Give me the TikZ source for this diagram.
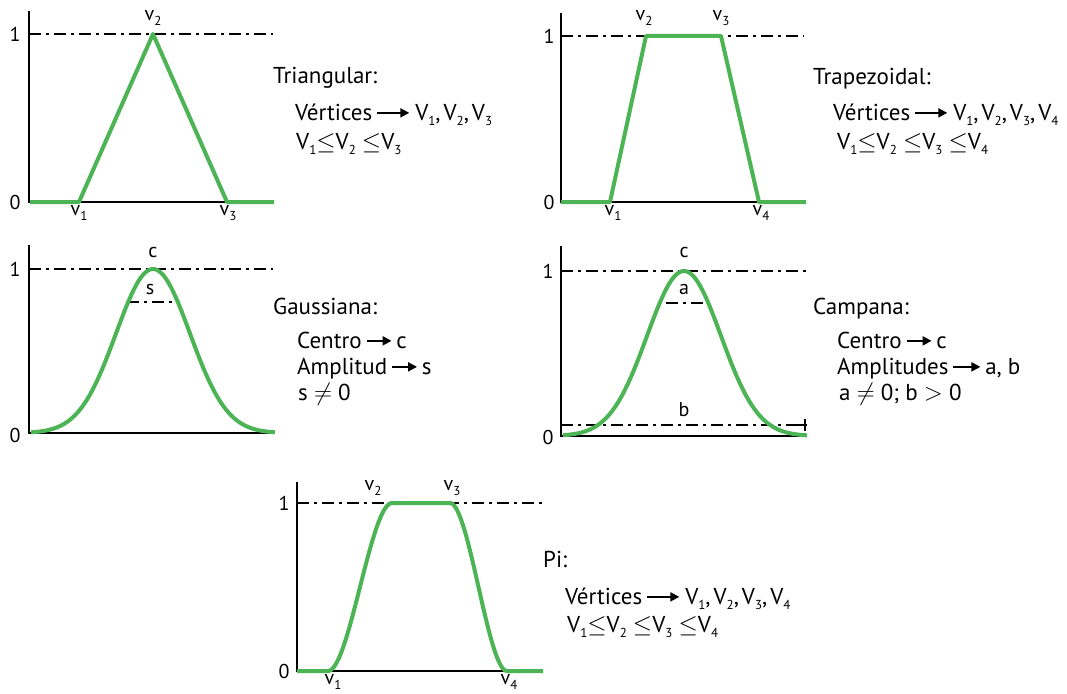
\documentclass[tikz,border=0pt]{standalone}
\usepackage{fontspec}
\setmainfont{PT Sans}
\usetikzlibrary{arrows.meta}
\definecolor{mfgreen}{RGB}{76,180,84}
\tikzset{
  axisline/.style={line width=1.8pt, black},
  mf/.style={line width=4pt, mfgreen, line join=round},
  guide/.style={line width=1.3pt, dash pattern=on 12pt off 5pt on 3pt off 5pt},
  lbl/.style={font=\fontsize{20}{20}\selectfont, inner sep=0pt},
  txt/.style={font=\fontsize{23}{23}\selectfont, anchor=base west, inner sep=0pt},
}
\newcommand\sbx[1]{\raisebox{-0.45ex}{\fontsize{13}{13}\selectfont #1}}
\newcommand\arr[1]{\tikz[baseline=-0.62ex]\draw[line width=2pt,-{Triangle[length=9pt,width=9pt]}](0pt,0pt)--(#1,0pt);}
\newcommand\cs{,\hspace{3pt}}
\newcommand\verts[1]{Vértices\hspace{4pt}\arr{32pt}\hspace{5pt}#1}
\begin{document}
\begin{tikzpicture}[x=1pt,y=-1pt]
\useasboundingbox (0,0) rectangle (1067,693);
\fill[white] (0,0) rectangle (1067,693);

% ---------- Triangular ----------
\coordinate (t0) at (30,202); \coordinate (tv1) at (79,202);
\coordinate (tv2) at (153,34); \coordinate (tv3) at (227,202);
\coordinate (tend) at (274,202);
\draw[axisline] (29,11) -- (29,202) -- (274,202);
\draw[guide] (29,34) -- (273,34);
\draw[mf] (t0) -- (tv1) -- (tv2) -- (tv3) -- (tend);
\node[lbl] (t1) at (15,34) {1};
\node[lbl] (t00) at (15,202) {0};
\node[lbl] (tl2) at (153,18) {v\sbx{2}};
\node[lbl] (tl1) at (79,213) {v\sbx{1}};
\node[lbl] (tl3) at (228,213) {v\sbx{3}};
\node[txt] (tt1) at (273,83) {Triangular:};
\node[txt] (tt2) at (295,120) {\verts{V\sbx{1}\cs V\sbx{2}\cs V\sbx{3}}};
\node[txt] (tt3) at (296,149) {V\sbx{1}$\le$V\sbx{2} $\le$V\sbx{3}};

% ---------- Trapezoidal ----------
\coordinate (z0) at (561,202); \coordinate (zv1) at (610,202);
\coordinate (zv2) at (646,36); \coordinate (zv3) at (721,36);
\coordinate (zv4) at (759,202); \coordinate (zend) at (806,202);
\draw[axisline] (561,13) -- (561,202) -- (806,202);
\draw[guide] (561,36) -- (804,36);
\draw[mf] (z0) -- (zv1) -- (zv2) -- (zv3) -- (zv4) -- (zend);
\node[lbl] (z1) at (549,36) {1};
\node[lbl] (z00) at (549,202) {0};
\node[lbl] (zl2) at (644,18) {v\sbx{2}};
\node[lbl] (zl3) at (721,18) {v\sbx{3}};
\node[lbl] (zl1) at (613,213) {v\sbx{1}};
\node[lbl] (zl4) at (761,213) {v\sbx{4}};
\node[txt] (zt1) at (813,84) {Trapezoidal:};
\node[txt] (zt2) at (833,120) {\verts{V\sbx{1}\cs V\sbx{2}\cs V\sbx{3}\cs V\sbx{4}}};
\node[txt] (zt3) at (837,149) {V\sbx{1}$\le$V\sbx{2} $\le$V\sbx{3} $\le$V\sbx{4}};

% ---------- Gaussiana ----------
\draw[axisline] (29,245) -- (29,433) -- (275,433);
\draw[guide] (29,269) -- (273,269);
\draw[guide] (127,302) -- (180,302);
\draw[mf] plot[domain=31:275, samples=90, smooth] (\x, {433-164*exp(-0.5*((\x-153)/37)^2)});
\node[lbl] (g1) at (15,269) {1};
\node[lbl] (g00) at (15,435) {0};
\node[lbl] (gc) at (153,252) {c};
\node[lbl] (gs) at (150,289) {s};
\node[txt] (gt1) at (273,314) {Gaussiana:};
\node[txt] (gt2) at (297,348) {Centro\,\arr{25pt}\,c};
\node[txt] (gt3) at (297,374) {Amplitud\,\arr{25pt}\,s};
\node[txt] (gt4) at (298,400) {s $\neq$ 0};

% ---------- Campana ----------
\draw[axisline] (561,246) -- (561,436) -- (807,436);
\draw[guide] (561,271) -- (806,271);
\draw[guide] (666,303) -- (705,303);
\draw[guide] (561,425) -- (800,425);
\draw[line width=1.3pt] (797,425) -- (807,425) (805,419) -- (805,431);
\draw[mf] plot[domain=563:807, samples=100, smooth]
  (\x, {436-165*exp(-0.5*((\x-684)/37)^2)});
\node[lbl] (b1) at (548,271) {1};
\node[lbl] (b00) at (548,437) {0};
\node[lbl] (bc) at (684,252) {c};
\node[lbl] (ba) at (684,289) {a};
\node[lbl] (bb) at (684,410) {b};
\node[txt] (bt1) at (813,314) {Campana:};
\node[txt] (bt2) at (837,348) {Centro\,\arr{25pt}\,c};
\node[txt] (bt3) at (837,374) {Amplitudes\,\arr{27pt}\,a, b};
\node[txt] (bt4) at (839,400) {a $\neq$ 0; b $>$ 0};

% ---------- Pi ----------
\draw[axisline] (297,482) -- (297,671) -- (543,671);
\draw[guide] (297,503) -- (542,503);
\draw[mf] (297,671) -- (328,671)
  -- plot[domain=0:1, samples=40] ({328+64*\x}, {671-168*(3*\x*\x-2*\x*\x*\x)})
  -- (450,503)
  -- plot[domain=0:1, samples=40] ({450+57*\x}, {503+168*(3*\x*\x-2*\x*\x*\x)})
  -- (543,671);
\node[lbl] (p1) at (284,503) {1};
\node[lbl] (p00) at (284,671) {0};
\node[lbl] (pl2) at (373,488) {v\sbx{2}};
\node[lbl] (pl3) at (452,488) {v\sbx{3}};
\node[lbl] (pl1) at (333,682) {v\sbx{1}};
\node[lbl] (pl4) at (509,682) {v\sbx{4}};
\node[txt] (pt1) at (543,567) {Pi:};
\node[txt] (pt2) at (565,604) {\verts{V\sbx{1}\cs V\sbx{2}\cs V\sbx{3}\cs V\sbx{4}}};
\node[txt] (pt3) at (567,632) {V\sbx{1}$\le$V\sbx{2} $\le$V\sbx{3} $\le$V\sbx{4}};
\end{tikzpicture}
\end{document}
